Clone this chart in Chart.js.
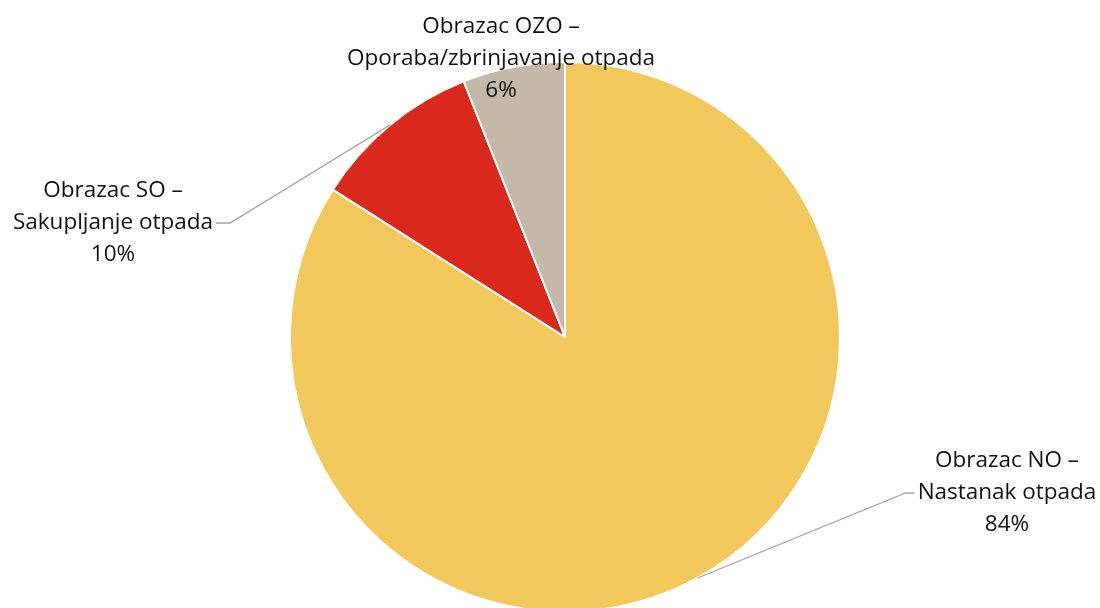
<!DOCTYPE html>
<html>
<head>
<meta charset="utf-8">
<script src="https://cdn.jsdelivr.net/npm/chart.js@4.4.1/dist/chart.umd.min.js"></script>
<style>
  html, body { margin: 0; padding: 0; background: #fff; overflow: hidden; }
  #wrap { width: 1100px; height: 620px; }
</style>
</head>
<body>
<div id="wrap"><canvas id="chartPie" width="1100" height="620"></canvas></div>
<script>
  // données
  var categories = ['Obrazac NO –\nNastanak otpada', 'Obrazac SO –\nSakupljanje otpada', 'Obrazac OZO –\nOporaba/zbrinjavanje otpada'];
  var shares = [84, 10, 6];
  var colors = ['#F2C75C', '#DA291C', '#C4B8A9'];

  // placement des étiquettes (centre du bloc de texte, relatif au centre du camembert)
  var labelPlacement = [
    { dx: 442, dy: 156, leader: true, side: 'right' },
    { dx: -452, dy: -114, leader: true, side: 'left' },
    { dx: -64, dy: -278, leader: false }
  ];

  var FONT = "22.5px 'Open Sans', sans-serif";
  var LINE_H = 32;

  var pieLabels = {
    id: 'pieLabels',
    afterDatasetsDraw: function (chart) {
      var ctx = chart.ctx;
      var meta = chart.getDatasetMeta(0);
      ctx.save();
      ctx.font = FONT;
      ctx.fillStyle = '#111';
      ctx.textAlign = 'center';
      ctx.textBaseline = 'middle';
      meta.data.forEach(function (arc, i) {
        var p = labelPlacement[i];
        var cx = arc.x, cy = arc.y;
        var lines = categories[i].split('\n').concat([shares[i] + '%']);
        var lx = cx + p.dx, ly = cy + p.dy;
        var maxW = 0;
        lines.forEach(function (l) { maxW = Math.max(maxW, ctx.measureText(l).width); });

        if (p.leader) {
          var mid = (arc.startAngle + arc.endAngle) / 2;
          var sx = cx + Math.cos(mid) * arc.outerRadius;
          var sy = cy + Math.sin(mid) * arc.outerRadius;
          var ey = ly;
          var edge = p.side === 'right' ? lx - maxW / 2 - 3 : lx + maxW / 2 + 3;
          var kx = p.side === 'right' ? edge - 9 : edge + 14;
          ctx.strokeStyle = '#A6A6A6';
          ctx.lineWidth = 1.3;
          ctx.beginPath();
          ctx.moveTo(sx, sy);
          ctx.lineTo(kx, ey);
          ctx.lineTo(edge, ey);
          ctx.stroke();
        }

        lines.forEach(function (l, k) {
          ctx.fillText(l, lx, ly + (k - (lines.length - 1) / 2) * LINE_H);
        });
      });
      ctx.restore();
    }
  };

  new Chart(document.getElementById('chartPie'), {
    type: 'pie',
    data: {
      labels: categories,
      datasets: [{
        data: shares,
        backgroundColor: colors,
        borderColor: '#ffffff',
        borderWidth: 2
      }]
    },
    options: {
      responsive: false,
      animation: false,
      layout: { padding: { left: 289, right: 259, top: 61, bottom: 7 } },
      plugins: {
        legend: { display: false },
        tooltip: { enabled: false }
      }
    },
    plugins: [pieLabels]
  });
</script>
</body>
</html>
